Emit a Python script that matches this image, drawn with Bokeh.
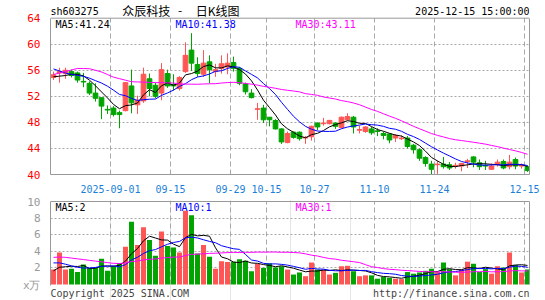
import pandas as pd
from bokeh.plotting import figure
from bokeh.models import Range1d, FixedTicker, Label, ColumnDataSource, LinearAxis, Span
from bokeh.layouts import column
from bokeh.embed import file_html
from bokeh.resources import INLINE

# ---------------- data ----------------
dates = ["08-18", "08-19", "08-20", "08-21", "08-22", "08-25", "08-26", "08-27", "08-28", "08-29",
         "09-01", "09-02", "09-03", "09-04", "09-05", "09-08", "09-09", "09-10", "09-11", "09-12",
         "09-15", "09-16", "09-17", "09-18", "09-19", "09-22", "09-23", "09-24", "09-25", "09-26",
         "09-29", "09-30", "10-09", "10-10", "10-13", "10-14", "10-15", "10-16", "10-17", "10-20",
         "10-21", "10-22", "10-23", "10-24", "10-27", "10-28", "10-29", "10-30", "10-31", "11-03",
         "11-04", "11-05", "11-06", "11-07", "11-10", "11-11", "11-12", "11-13", "11-14", "11-17",
         "11-18", "11-19", "11-20", "11-21", "11-24", "11-25", "11-26", "11-27", "11-28", "12-01",
         "12-02", "12-03", "12-04", "12-05", "12-08", "12-09", "12-10", "12-11", "12-12", "12-15"]

open_ = [54.9, 55.6, 55.5, 55.8, 55.6, 54.3, 54.0, 52.5, 51.8, 50.0,
         50.2, 49.5, 49.8, 53.6, 50.7, 51.3, 54.7, 53.7, 52.5, 55.5,
         53.8, 53.2, 55.8, 59.1, 56.9, 55.4, 57.3, 55.8, 56.3, 56.5,
         57.2, 56.3, 53.9, 52.5, 50.0, 50.2, 48.8, 48.3, 47.0, 44.9,
         46.5, 46.5, 45.6, 45.8, 47.9, 47.8, 47.8, 47.9, 47.2, 48.4,
         48.8, 46.8, 46.6, 47.0, 46.7, 46.3, 46.2, 45.6, 45.5, 45.6,
         44.5, 43.8, 42.6, 41.6, 41.5, 41.6, 41.5, 41.3, 41.3, 42.0,
         42.7, 41.8, 41.4, 40.8, 41.5, 42.0, 41.2, 42.3, 41.3, 41.2]
high = [55.8, 56.4, 56.4, 56.1, 55.8, 55.6, 54.3, 54.0, 51.8, 50.6,
        50.5, 49.8, 54.2, 56.1, 52.1, 56.4, 55.5, 54.1, 57.1, 56.1,
        55.4, 55.1, 60.3, 61.7, 58.0, 59.1, 58.3, 57.0, 58.3, 58.6,
        58.1, 56.5, 54.1, 53.1, 51.0, 50.7, 48.8, 48.5, 47.1, 46.6,
        46.6, 46.6, 45.9, 47.5, 48.0, 48.7, 48.4, 48.0, 48.9, 49.4,
        49.0, 47.5, 47.4, 47.3, 47.1, 46.6, 46.3, 46.2, 46.0, 45.9,
        44.7, 44.0, 42.8, 42.1, 42.1, 42.7, 41.9, 41.8, 41.8, 42.4,
        42.8, 42.3, 42.1, 41.7, 42.3, 42.3, 43.0, 42.6, 41.7, 41.4]
low = [54.5, 54.1, 54.7, 54.9, 54.1, 53.4, 52.2, 51.2, 48.5, 49.3,
       48.9, 47.1, 49.7, 49.4, 49.3, 51.0, 52.0, 51.7, 51.4, 53.3,
       52.9, 52.9, 55.6, 55.9, 55.0, 55.0, 54.0, 55.0, 55.5, 55.4,
       55.8, 53.7, 52.3, 51.7, 48.4, 47.9, 47.4, 46.9, 44.7, 44.8,
       45.5, 45.2, 44.7, 45.2, 46.8, 47.5, 47.7, 47.0, 47.1, 48.3,
       46.3, 46.3, 46.4, 46.1, 45.9, 45.4, 44.8, 45.0, 45.3, 44.0,
       43.2, 42.1, 41.2, 40.0, 40.1, 40.9, 40.7, 40.9, 40.5, 41.0,
       41.1, 40.7, 40.7, 40.7, 41.2, 40.8, 40.8, 40.8, 40.9, 40.4]
close = [55.3, 55.8, 56.0, 55.2, 54.5, 54.2, 52.5, 51.7, 50.5, 49.9,
         49.2, 49.2, 54.1, 51.0, 51.4, 55.4, 53.2, 52.0, 56.1, 53.6,
         53.6, 54.9, 58.3, 57.1, 55.5, 57.1, 56.1, 56.1, 57.0, 57.1,
         56.3, 54.0, 52.7, 51.8, 50.1, 48.4, 48.4, 47.0, 45.0, 46.3,
         45.7, 45.5, 45.7, 47.4, 47.3, 47.9, 48.3, 47.4, 48.8, 48.9,
         47.3, 46.9, 47.3, 46.4, 46.6, 46.0, 45.3, 46.0, 45.6, 44.3,
         43.8, 42.5, 41.7, 40.8, 41.6, 41.2, 41.0, 41.4, 41.7, 42.1,
         41.9, 41.2, 41.3, 41.3, 41.9, 41.0, 41.9, 41.3, 41.4, 40.6]
volume = [1.8, 3.85, 1.8, 1.9, 1.5, 2.4, 2.0, 2.05, 3.1, 1.65,
          2.2, 2.6, 4.55, 7.55, 4.75, 6.9, 5.35, 3.45, 6.4, 4.65,
          4.45, 3.85, 8.9, 8.35, 3.75, 4.75, 3.35, 1.9, 2.8, 2.7,
          2.75, 3.05, 2.85, 1.6, 2.5, 2.0, 2.55, 2.05, 2.2, 1.8,
          1.2, 1.45, 1.0, 2.65, 1.8, 1.8, 1.2, 1.4, 2.2, 2.25,
          1.6, 1.0, 1.1, 1.1, 0.7, 0.9, 0.8, 0.7, 0.65, 1.5,
          1.3, 1.45, 1.65, 1.9, 1.5, 2.65, 1.85, 1.1, 1.8, 2.75,
          2.5, 1.5, 1.85, 1.3, 2.2, 2.05, 3.85, 2.35, 1.45, 1.8]

# sessions before the visible window (they only feed the moving averages)
prior_close = [48.8, 49.0, 48.2, 47.5, 54.8, 53.1, 59.2, 58.0, 61.9, 61.2,
               56.2, 61.1, 58.0, 52.4, 56.4, 54.2, 52.8, 56.9, 54.4, 54.4,
               59.0, 59.2, 57.2, 56.0, 55.7, 55.3, 55.5, 54.2, 54.7]
prior_volume = [2.6, 2.9, 4.6, 4.2, 5.1, 4.7, 4.8, 5.8, 4.4, 4.9,
                3.1, 2.4, 2.8, 2.6, 3.0, 2.9, 2.7, 2.8, 3.2, 2.5,
                3.8, 3.4, 3.9, 3.2, 3.45, 1.7, 1.5, 1.6, 1.65]

tick_dates = ["09-01", "09-15", "09-29", "10-15", "10-27", "11-10", "11-24", "12-15"]
tick_labels = ["2025-09-01", "09-15", "09-29", "10-15", "10-27", "11-10", "11-24", "12-15"]
price_ticks = [40, 44, 48, 52, 56, 60, 64]
vol_ticks = [2, 4, 6, 8, 10]
vol_unit = "x万"
vol_ma_labels = ["MA5:2", "MA10:1", "MA30:1"]
stock_code = "sh603275"
stock_title = ["众辰科技", "-", "日K线图"]
timestamp = "2025-12-15 15:00:00"
copyright_txt = "Copyright 2025 SINA.COM"
site_txt = "http://finance.sina.com.cn"

# ---------------- derived ----------------
n = len(close)
xs = [i + 0.5 for i in range(n)]
RED, GREEN = "#ff5555", "#00a400"
colors = [RED if c >= o else GREEN for o, c in zip(open_, close)]
body_top = [max(o, c) for o, c in zip(open_, close)]
body_bot = [min(o, c) for o, c in zip(open_, close)]

cs = pd.Series(prior_close + close)
vs = pd.Series(prior_volume + volume)
ma = {k: cs.rolling(k).mean().iloc[-n:].tolist() for k in (5, 10, 30)}
vma = {k: vs.rolling(k).mean().iloc[-n:].tolist() for k in (5, 10, 30)}

src = ColumnDataSource(dict(x=xs, o=open_, h=high, l=low, c=close, top=body_top, bot=body_bot,
                            col=colors, v=volume,
                            ma5=ma[5], ma10=ma[10], ma30=ma[30],
                            vma5=vma[5], vma10=vma[10], vma30=vma[30]))

tick_pos = [dates.index(d) for d in tick_dates]
overrides = {p: l for p, l in zip(tick_pos, tick_labels)}

MONO = "DejaVu Sans Mono"
CJK = "Noto Sans CJK SC"
XMAX = 479 / 6.0
xr = Range1d(0, XMAX)
GRID = "#a8a8a8"
BORDER = "#999999"
ma_colors = ["black", "#0000ff", "#ff00ff"]

P_LO, P_HI = price_ticks[0], price_ticks[-1]
ppu = 159 / (P_HI - P_LO)          # pixels per price unit
V_HI = vol_ticks[-1]
vpu = 83 / V_HI                     # pixels per volume unit


def plain_axis(ax):
    ax.axis_line_color = BORDER
    ax.major_tick_line_color = None
    ax.minor_tick_line_color = None


# ---------------- price panel (frame reaches the top of the page) ----------------
p = figure(width=545, height=195, x_range=xr,
           y_range=Range1d(P_LO, P_HI + 18 / ppu),
           output_backend="svg", toolbar_location=None, title=None,
           min_border_left=50, min_border_right=16, min_border_top=0, min_border_bottom=18)
p.outline_line_color = None
p.background_fill_color = "white"
p.border_fill_color = "white"
p.xgrid.grid_line_color = None

# vertical dashed grid limited to the panel
p.segment(x0=tick_pos, y0=[P_LO] * len(tick_pos), x1=tick_pos, y1=[P_HI] * len(tick_pos),
          line_color=GRID, line_dash="5 3", line_width=1)
p.ygrid.ticker = FixedTicker(ticks=price_ticks[1:-1])
p.ygrid.grid_line_color = GRID
p.ygrid.grid_line_dash = "2 2"

p.segment(x0="x", y0="l", x1="x", y1="h", color="col", line_width=1, source=src)
p.vbar(x="x", top="top", bottom="bot", width=0.78, fill_color="col", line_color="col",
       line_width=1, source=src)
for k, col in zip((5, 10, 30), ma_colors):
    p.line(x="x", y=f"ma{k}", color=col, line_width=1, source=src)

yax = p.yaxis[0]
yax.ticker = FixedTicker(ticks=price_ticks)
yax.bounds = (P_LO, P_HI)
plain_axis(yax)
yax.major_label_text_color = "#ff0000"
yax.major_label_text_font = MONO
yax.major_label_text_font_size = "11px"
yax.major_label_standoff = 4

xax = p.xaxis[0]
xax.ticker = FixedTicker(ticks=tick_pos)
xax.major_label_overrides = overrides
xax.bounds = (0, XMAX)
plain_axis(xax)
xax.major_label_text_color = "#1a7fd8"
xax.major_label_text_font = MONO
xax.major_label_text_font_size = "10px"
xax.major_label_standoff = 4

rax = LinearAxis(ticker=FixedTicker(ticks=[]), bounds=(P_LO, P_HI))
plain_axis(rax)
p.add_layout(rax, "right")
p.add_layout(Span(location=P_HI, dimension="width", line_color=BORDER, line_width=1))

hdr_y = P_HI + 7 / ppu
leg_y = P_HI - 6 / ppu
p.add_layout(Label(x=0, y=hdr_y, text=stock_code, text_font=MONO, text_font_size="10px",
                   text_baseline="middle", text_color="black"))
p.add_layout(Label(x=11.95, y=hdr_y + 0.1, text=stock_title[0], text_font=CJK,
                   text_font_size="12px", text_baseline="middle", text_color="black"))
p.add_layout(Label(x=21.6, y=hdr_y + 0.1, text=stock_title[1], text_font=CJK,
                   text_font_size="12px", text_baseline="middle", text_align="center",
                   text_color="black"))
p.add_layout(Label(x=24.2, y=hdr_y + 0.1, text=stock_title[2], text_font=CJK,
                   text_font_size="12px", text_baseline="middle", text_color="black"))
p.add_layout(Label(x=XMAX, y=hdr_y, text=timestamp, text_font=MONO, text_font_size="10px",
                   text_baseline="middle", text_align="right", text_color="black"))
for k, col, lx in zip((5, 10, 30), ma_colors, (0.83, 20.83, 40.83)):
    p.add_layout(Label(x=lx, y=leg_y, text=f"MA{k}:{ma[k][-1]:.2f}", text_font=MONO,
                       text_font_size="10px", text_baseline="middle", text_color=col))

# ---------------- volume panel (frame reaches the bottom of the page) ----------------
unit_pos = -1.0 / vpu
q = figure(width=545, height=105, x_range=xr,
           y_range=Range1d(-16 / vpu, V_HI + 2 / vpu),
           output_backend="svg", toolbar_location=None, title=None, x_axis_location=None,
           min_border_left=50, min_border_right=16, min_border_top=4, min_border_bottom=0)
q.outline_line_color = None
q.background_fill_color = "white"
q.border_fill_color = "white"

q.segment(x0=tick_pos, y0=[0] * len(tick_pos), x1=tick_pos, y1=[V_HI] * len(tick_pos),
          line_color=GRID, line_dash="5 3", line_width=1)
q.ygrid.ticker = FixedTicker(ticks=vol_ticks[:-1])
q.ygrid.grid_line_color = GRID
q.ygrid.grid_line_dash = "2 2"

q.vbar(x="x", top="v", bottom=0, width=0.83, fill_color="col", line_color=None, source=src)
for k, col in zip((5, 10, 30), ma_colors):
    q.line(x="x", y=f"vma{k}", color=col, line_width=1, source=src)

qy = q.yaxis[0]
qy.ticker = FixedTicker(ticks=[unit_pos] + vol_ticks)
qy.major_label_overrides = {unit_pos: vol_unit}
qy.bounds = (unit_pos, V_HI)
plain_axis(qy)
qy.major_label_text_color = "#999999"
qy.major_label_text_font = MONO
qy.major_label_text_font_size = "11px"
qy.major_label_standoff = 4

qr = LinearAxis(ticker=FixedTicker(ticks=[]), bounds=(0, V_HI))
plain_axis(qr)
q.add_layout(qr, "right")
q.add_layout(Span(location=V_HI, dimension="width", line_color=BORDER, line_width=1))

vleg_y = V_HI - 6.0 / vpu
for t, col, lx in zip(vol_ma_labels, ma_colors, (0.83, 20.83, 40.83)):
    q.add_layout(Label(x=lx, y=vleg_y, text=t, text_font=MONO, text_font_size="10px",
                       text_baseline="middle", text_color=col))
foot_y = -9.0 / vpu
q.add_layout(Label(x=0, y=foot_y, text=copyright_txt, text_font=MONO, text_font_size="10px",
                   text_baseline="middle", text_color="#444444"))
q.add_layout(Label(x=XMAX, y=foot_y, text=site_txt, text_font=MONO, text_font_size="10px",
                   text_baseline="middle", text_align="right", text_color="#444444"))

layout = column(p, q, spacing=0)
open("out.html", "w").write(file_html(layout, INLINE))
